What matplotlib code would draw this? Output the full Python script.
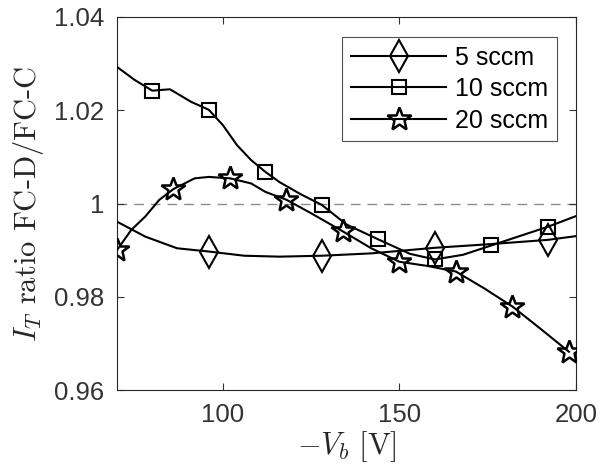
import matplotlib
matplotlib.use("Agg")
import matplotlib.pyplot as plt

plt.rcParams['font.family'] = ['Liberation Sans', 'DejaVu Sans']
plt.rcParams['mathtext.fontset'] = 'cm'

# 5 sccm (diamonds)
x_5 = [70, 78, 87, 96, 106, 116, 128, 142, 160, 176, 192, 200]
y_5 = [0.9961, 0.9929, 0.9904, 0.9897, 0.9888, 0.9886, 0.9888, 0.9893,
       0.9905, 0.9913, 0.9922, 0.9930]
mk_5 = [96, 128, 160, 192]

# 10 sccm (squares)
x_10 = [70, 75, 80, 85, 91, 96, 100, 104, 108, 112, 116, 122, 128, 135,
        144, 153, 160, 168, 176, 184, 192, 200]
y_10 = [1.0293, 1.0265, 1.0242, 1.0245, 1.0218, 1.0201, 1.0168, 1.0125,
        1.0093, 1.0068, 1.0046, 1.0020, 0.9997, 0.9955, 0.9923, 0.9892,
        0.9880, 0.9890, 0.9910, 0.9930, 0.9950, 0.9973]
mk_10 = [80, 96, 112, 128, 144, 160, 176, 192]

# 20 sccm (stars)
x_20 = [70, 74, 78, 82, 86, 92, 96, 102, 108, 112, 118, 125, 134, 142,
        150, 158, 166, 174, 182, 190, 198]
y_20 = [0.9900, 0.9943, 0.9972, 1.0008, 1.0031, 1.0054, 1.0057, 1.0054,
        1.0043, 1.0025, 1.0008, 0.9979, 0.9940, 0.9904, 0.9875, 0.9866,
        0.9854, 0.9818, 0.9779, 0.9731, 0.9682]
mk_20 = [70, 86, 102, 118, 134, 150, 166, 182, 198]

# x, y, marker positions, marker, size, edge width, label
series = [
    (x_5, y_5, mk_5, 'd', 16, 1.5, '5 sccm'),
    (x_10, y_10, mk_10, 's', 10, 1.5, '10 sccm'),
    (x_20, y_20, mk_20, '*', 18, 1.8, '20 sccm'),
]

fig = plt.figure(figsize=(6.01, 4.74), dpi=100)
ax = fig.add_axes([117 / 601, 84 / 474, 459 / 601, 373 / 474])

ax.axhline(1.0, color='#8c8c8c', lw=1.0, ls=(0, (7, 5)), zorder=1)

for xs, ys, mk, m, ms, mew, lab in series:
    idx = [xs.index(v) for v in mk]
    ax.plot(xs, ys, color='black', lw=1.5, marker=m, markersize=ms,
            markevery=idx, mfc='none', mec='black', mew=mew, label=lab,
            zorder=3)

ax.set_xlim(70, 200)
ax.set_ylim(0.96, 1.04)
ax.set_xticks([100, 150, 200])
ax.set_yticks([0.96, 0.98, 1.0, 1.02, 1.04])
ax.set_yticklabels(['0.96', '0.98', '1', '1.02', '1.04'])
ax.tick_params(direction='in', length=5, width=0.8, top=True, right=True,
               labelsize=18.5, colors='#333333', pad=9)
for sp in ax.spines.values():
    sp.set_color('#262626')
    sp.set_linewidth(0.8)

ax.set_xlabel(r'$-V_b\ [\mathrm{V}]$', fontsize=22, color='#262626',
              labelpad=2)
ax.set_ylabel(r'$I_T$ ratio FC-D/FC-C', fontsize=22, color='#262626',
              family=['cmr10'], labelpad=6)

leg = ax.legend(loc='upper right', fontsize=18, handlelength=3.8,
                handletextpad=0.36, borderpad=0.35, labelspacing=0.3,
                borderaxespad=0, fancybox=False, edgecolor='#262626',
                bbox_to_anchor=(440 / 459, 353 / 373))
leg.get_frame().set_linewidth(0.8)

fig.savefig('out.png', dpi=100)
